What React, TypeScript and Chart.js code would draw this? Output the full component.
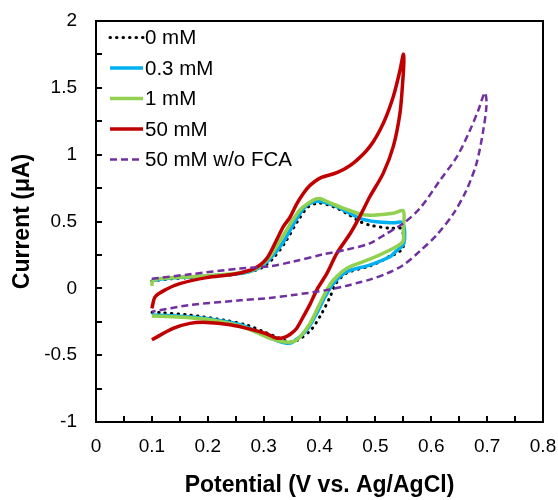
import React, { useEffect, useRef } from "react";
import { Chart, registerables } from "chart.js";

Chart.register(...registerables);

const FONT = "'Liberation Sans', Arial, Helvetica, sans-serif";

const seriesLabels = ["0 mM", "0.3 mM", "1 mM", "50 mM", "50 mM w/o FCA"];

const xTickValues = [0, 0.1, 0.2, 0.3, 0.4, 0.5, 0.6, 0.7, 0.8];
const xTickLabels = ["0", "0.1", "0.2", "0.3", "0.4", "0.5", "0.6", "0.7", "0.8"];
const yTickValues = [-1, -0.5, 0, 0.5, 1, 1.5, 2];
const yTickLabels = ["-1", "-0.5", "0", "0.5", "1", "1.5", "2"];

// 0 mM
const potential0 = [0.100, 0.130, 0.168, 0.200, 0.240, 0.275, 0.295, 0.315, 0.338, 0.362, 0.380, 0.400, 0.425, 0.449, 0.472, 0.490, 0.526, 0.547, 0.550, 0.547, 0.535, 0.526, 0.511, 0.490, 0.449, 0.430, 0.419, 0.405, 0.385, 0.360, 0.345, 0.329, 0.300, 0.270, 0.228, 0.168, 0.115, 0.100];
const current0 = [0.055, 0.070, 0.080, 0.088, 0.100, 0.125, 0.150, 0.215, 0.340, 0.510, 0.610, 0.638, 0.610, 0.560, 0.500, 0.473, 0.449, 0.445, 0.300, 0.287, 0.255, 0.242, 0.205, 0.167, 0.115, 0.040, -0.063, -0.180, -0.310, -0.390, -0.400, -0.374, -0.325, -0.275, -0.237, -0.200, -0.182, -0.180];

// 0.3 mM
const potential1 = [0.100, 0.130, 0.168, 0.200, 0.240, 0.270, 0.290, 0.311, 0.335, 0.359, 0.377, 0.398, 0.425, 0.449, 0.472, 0.502, 0.532, 0.549, 0.551, 0.535, 0.526, 0.490, 0.449, 0.425, 0.410, 0.395, 0.377, 0.353, 0.341, 0.317, 0.294, 0.258, 0.198, 0.138, 0.100];
const current1 = [0.060, 0.075, 0.085, 0.093, 0.103, 0.120, 0.148, 0.220, 0.345, 0.520, 0.620, 0.652, 0.622, 0.573, 0.524, 0.498, 0.490, 0.490, 0.337, 0.270, 0.236, 0.174, 0.124, 0.037, -0.063, -0.187, -0.312, -0.400, -0.411, -0.380, -0.335, -0.272, -0.225, -0.205, -0.200];

// 1 mM
const potential2 = [0.100, 0.101, 0.106, 0.130, 0.168, 0.200, 0.240, 0.270, 0.290, 0.311, 0.341, 0.365, 0.389, 0.400, 0.413, 0.449, 0.478, 0.502, 0.532, 0.550, 0.550, 0.549, 0.526, 0.490, 0.449, 0.425, 0.413, 0.400, 0.383, 0.359, 0.340, 0.311, 0.294, 0.258, 0.198, 0.138, 0.100];
const current2 = [0.017, 0.050, 0.067, 0.078, 0.087, 0.095, 0.107, 0.125, 0.155, 0.236, 0.436, 0.586, 0.660, 0.672, 0.650, 0.590, 0.550, 0.548, 0.561, 0.580, 0.436, 0.349, 0.287, 0.218, 0.150, 0.062, -0.013, -0.120, -0.262, -0.387, -0.402, -0.374, -0.342, -0.282, -0.232, -0.212, -0.207];

// 50 mM
const potential3 = [0.100, 0.106, 0.126, 0.150, 0.198, 0.246, 0.282, 0.305, 0.323, 0.335, 0.347, 0.359, 0.371, 0.383, 0.401, 0.431, 0.460, 0.490, 0.514, 0.532, 0.544, 0.550, 0.551, 0.549, 0.544, 0.532, 0.514, 0.490, 0.472, 0.455, 0.431, 0.413, 0.395, 0.383, 0.371, 0.359, 0.347, 0.335, 0.323, 0.305, 0.276, 0.240, 0.198, 0.168, 0.138, 0.100];
const current3 = [-0.150, -0.063, -0.007, 0.035, 0.080, 0.105, 0.145, 0.220, 0.360, 0.460, 0.530, 0.630, 0.710, 0.770, 0.825, 0.865, 0.935, 1.060, 1.234, 1.434, 1.630, 1.750, 1.700, 1.550, 1.310, 1.060, 0.860, 0.685, 0.536, 0.410, 0.262, 0.110, -0.013, -0.120, -0.212, -0.300, -0.345, -0.370, -0.372, -0.340, -0.305, -0.272, -0.255, -0.262, -0.300, -0.385];

// 50 mM w/o FCA
const potential4 = [0.100, 0.168, 0.258, 0.311, 0.353, 0.407, 0.449, 0.490, 0.520, 0.550, 0.580, 0.616, 0.646, 0.669, 0.684, 0.696, 0.699, 0.693, 0.681, 0.663, 0.640, 0.610, 0.580, 0.550, 0.520, 0.490, 0.472, 0.449, 0.413, 0.353, 0.311, 0.258, 0.168, 0.100];
const current4 = [0.072, 0.105, 0.148, 0.165, 0.200, 0.255, 0.290, 0.337, 0.410, 0.486, 0.600, 0.810, 0.985, 1.180, 1.330, 1.463, 1.380, 1.180, 0.935, 0.735, 0.561, 0.400, 0.280, 0.174, 0.110, 0.065, 0.045, 0.020, -0.013, -0.050, -0.072, -0.090, -0.125, -0.175];

const zip = (v: number[], c: number[]) => v.map((x, k) => ({ x, y: c[k] }));

const framePlugin = {
  id: "frameAndTicks",
  afterDraw(chart: any) {
    const { ctx, chartArea } = chart;
    const xs = chart.scales.x;
    const ys = chart.scales.y;
    ctx.save();
    ctx.strokeStyle = "#000";
    ctx.lineWidth = 2;
    ctx.beginPath();
    for (let k = 1; k < 16; k++) {
      const px = Math.round(xs.getPixelForValue(k * 0.05));
      ctx.moveTo(px, chartArea.bottom);
      ctx.lineTo(px, chartArea.bottom - 6);
    }
    for (let k = 1; k < 12; k++) {
      const py = Math.round(ys.getPixelForValue(-1 + k * 0.25));
      ctx.moveTo(chartArea.left, py);
      ctx.lineTo(chartArea.left + 6, py);
    }
    ctx.stroke();
    ctx.strokeRect(chartArea.left, chartArea.top, chartArea.right - chartArea.left, chartArea.bottom - chartArea.top);
    ctx.restore();
  },
};

const legendPlugin = {
  id: "insideLegend",
  afterDraw(chart: any) {
    const { ctx, chartArea } = chart;
    ctx.save();
    ctx.font = `20.5px ${FONT}`;
    ctx.textBaseline = "middle";
    ctx.textAlign = "left";
    chart.data.datasets.forEach((ds: any, i: number) => {
      const cy = chartArea.top + 17.5 + i * 30.5;
      const x0 = chartArea.left + 14;
      ctx.save();
      ctx.strokeStyle = ds.borderColor;
      ctx.lineWidth = ds.borderWidth;
      ctx.lineCap = ds.borderCapStyle || "butt";
      ctx.setLineDash(ds.borderDash || []);
      ctx.beginPath();
      ctx.moveTo(x0, cy - 1);
      ctx.lineTo(x0 + 33, cy - 1);
      ctx.stroke();
      ctx.restore();
      ctx.fillStyle = "#000";
      ctx.fillText(ds.label, x0 + 35, cy);
    });
    ctx.restore();
  },
};

const noPad = (s: any) => {
  s.paddingTop = 0;
  s.paddingBottom = 0;
  s.paddingLeft = 0;
  s.paddingRight = 0;
};

export default function App() {
  const ref = useRef<HTMLCanvasElement | null>(null);

  useEffect(() => {
    if (!ref.current) return;
    const common = { showLine: true, pointRadius: 0, pointHoverRadius: 0, tension: 0.3, fill: false };
    const chart = new Chart(ref.current, {
      type: "scatter",
      data: {
        datasets: [
          { ...common, label: seriesLabels[0], data: zip(potential0, current0), borderColor: "#000000", borderWidth: 3, borderDash: [0.5, 6], borderCapStyle: "round", order: 5 },
          { ...common, label: seriesLabels[1], data: zip(potential1, current1), borderColor: "#00B0F0", borderWidth: 3.5, order: 4 },
          { ...common, label: seriesLabels[2], data: zip(potential2, current2), borderColor: "#92D050", borderWidth: 3.5, order: 3 },
          { ...common, label: seriesLabels[3], data: zip(potential3, current3), borderColor: "#C00000", borderWidth: 3.5, order: 2 },
          { ...common, label: seriesLabels[4], data: zip(potential4, current4), borderColor: "#7030A0", borderWidth: 2.5, borderDash: [7, 4], order: 1 },
        ] as any,
      },
      options: {
        animation: false,
        responsive: false,
        maintainAspectRatio: false,
        layout: { padding: { top: 21, right: 15, left: 0, bottom: 0 } },
        plugins: { legend: { display: false }, tooltip: { enabled: false } },
        scales: {
          x: {
            type: "linear",
            min: 0,
            max: 0.8,
            afterBuildTicks: (s: any) => { s.ticks = xTickValues.map((value) => ({ value })); },
            afterFit: (s: any) => { s.height = 78; noPad(s); },
            grid: { display: false, drawTicks: false },
            border: { display: false },
            ticks: {
              padding: 13,
              color: "#000",
              font: { size: 19, family: FONT },
              maxRotation: 0,
              autoSkip: false,
              callback: (_v: any, i: number) => xTickLabels[i],
            },
            title: { display: true, text: "Potential (V vs. Ag/AgCl)", color: "#000", font: { size: 23, weight: "bold", family: FONT }, padding: { top: 0, bottom: 1 } },
          },
          y: {
            type: "linear",
            min: -1,
            max: 2,
            afterBuildTicks: (s: any) => { s.ticks = yTickValues.map((value) => ({ value })); },
            afterFit: (s: any) => { s.width = 96; noPad(s); },
            grid: { display: false, drawTicks: false },
            border: { display: false },
            ticks: {
              padding: 19,
              color: "#000",
              font: { size: 19, family: FONT },
              autoSkip: false,
              callback: (_v: any, i: number) => yTickLabels[i],
            },
            title: { display: true, text: "Current (μA)", color: "#000", font: { size: 23, weight: "bold", family: FONT }, padding: { top: 9, bottom: 0 } },
          },
        },
      } as any,
      plugins: [framePlugin, legendPlugin],
    });
    return () => chart.destroy();
  }, []);

  return (
    <div style={{ position: "absolute", left: 0, top: 0, width: 558, height: 500, background: "#fff" }}>
      <canvas ref={ref} width={558} height={500} style={{ display: "block", width: 558, height: 500 }} />
    </div>
  );
}
